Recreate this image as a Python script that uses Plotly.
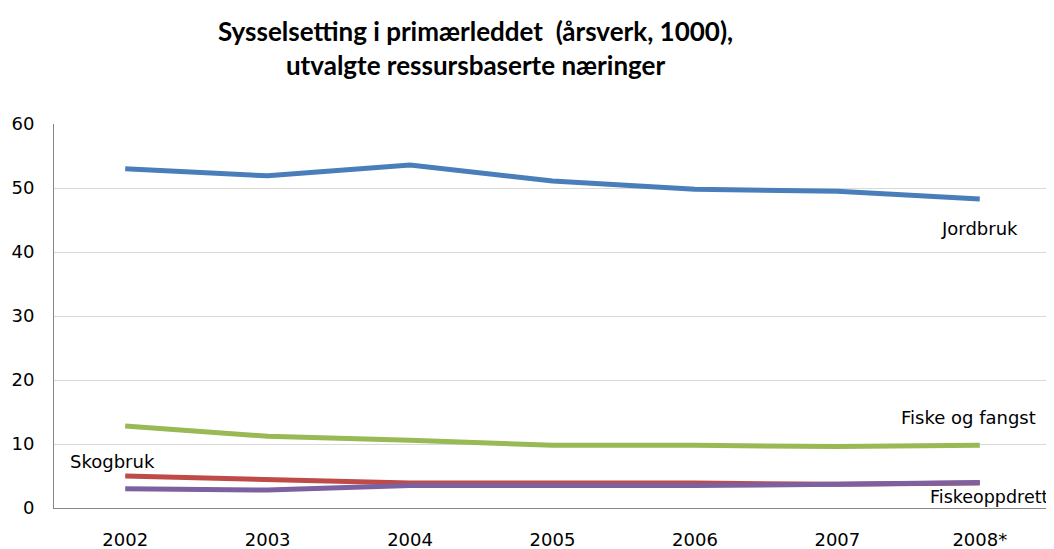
import plotly.graph_objects as go

years = ["2002", "2003", "2004", "2005", "2006", "2007", "2008*"]
jordbruk = [53.0, 51.9, 53.6, 51.1, 49.8, 49.5, 48.3]
fiske_fangst = [12.8, 11.2, 10.6, 9.8, 9.8, 9.6, 9.8]
skogbruk = [5.0, 4.5, 3.9, 3.9, 3.9, 3.7, 3.9]
fiskeoppdrett = [3.0, 2.8, 3.5, 3.5, 3.5, 3.7, 4.0]

series = [
    ("Jordbruk", jordbruk, "#4a7ebb"),
    ("Fiske og fangst", fiske_fangst, "#98b954"),
    ("Skogbruk", skogbruk, "#be4b48"),
    ("Fiskeoppdrett", fiskeoppdrett, "#7d60a0"),
]

fig = go.Figure()
for name, vals, col in series:
    fig.add_trace(go.Scatter(x=years, y=vals, mode="lines", name=name,
                             line=dict(color=col, width=5), showlegend=False))

lab_font = dict(family="DejaVu Sans", size=18, color="#000000")
fig.add_annotation(x=6, y=43.7, text="Jordbruk", showarrow=False, font=lab_font)
fig.add_annotation(x=5.92, y=14.2, text="Fiske og fangst", showarrow=False, font=lab_font)
fig.add_annotation(x=-0.09, y=7.2, text="Skogbruk", showarrow=False, font=lab_font)
fig.add_annotation(x=1, xref="paper", xanchor="right", xshift=0, y=1.7, text="Fiskeoppdrett",
                   showarrow=False, font=dict(family="DejaVu Sans", size=17.5, color="#000000"))

fig.add_annotation(x=0.4223, y=1.199, xref="paper", yref="paper", xanchor="center", yanchor="middle",
                   text="<b>Sysselsetting i primærleddet  (årsverk, 1000),<br>utvalgte ressursbaserte næringer</b>",
                   showarrow=False, font=dict(family="Lato", size=26, color="#000000"))

fig.update_layout(
    width=1046, height=541,
    margin=dict(l=46, r=3, t=116, b=41),
    paper_bgcolor="white", plot_bgcolor="white",
    xaxis=dict(type="category", range=[-0.5, 6.5], showgrid=False, automargin=False,
               showline=True, linecolor="#868686", linewidth=1,
               ticks="outside", ticklen=15, tickcolor="rgba(0,0,0,0)",
               tickfont=dict(family="DejaVu Sans", size=18, color="#000000")),
    yaxis=dict(range=[0, 60], dtick=10, showgrid=True, gridcolor="#d9d9d9", gridwidth=1,
               showline=True, linecolor="#868686", linewidth=1, zeroline=False, automargin=False,
               ticks="outside", ticklen=15, tickcolor="rgba(0,0,0,0)",
               tickfont=dict(family="DejaVu Sans", size=18, color="#000000")),
)

fig.write_html("out.html")
